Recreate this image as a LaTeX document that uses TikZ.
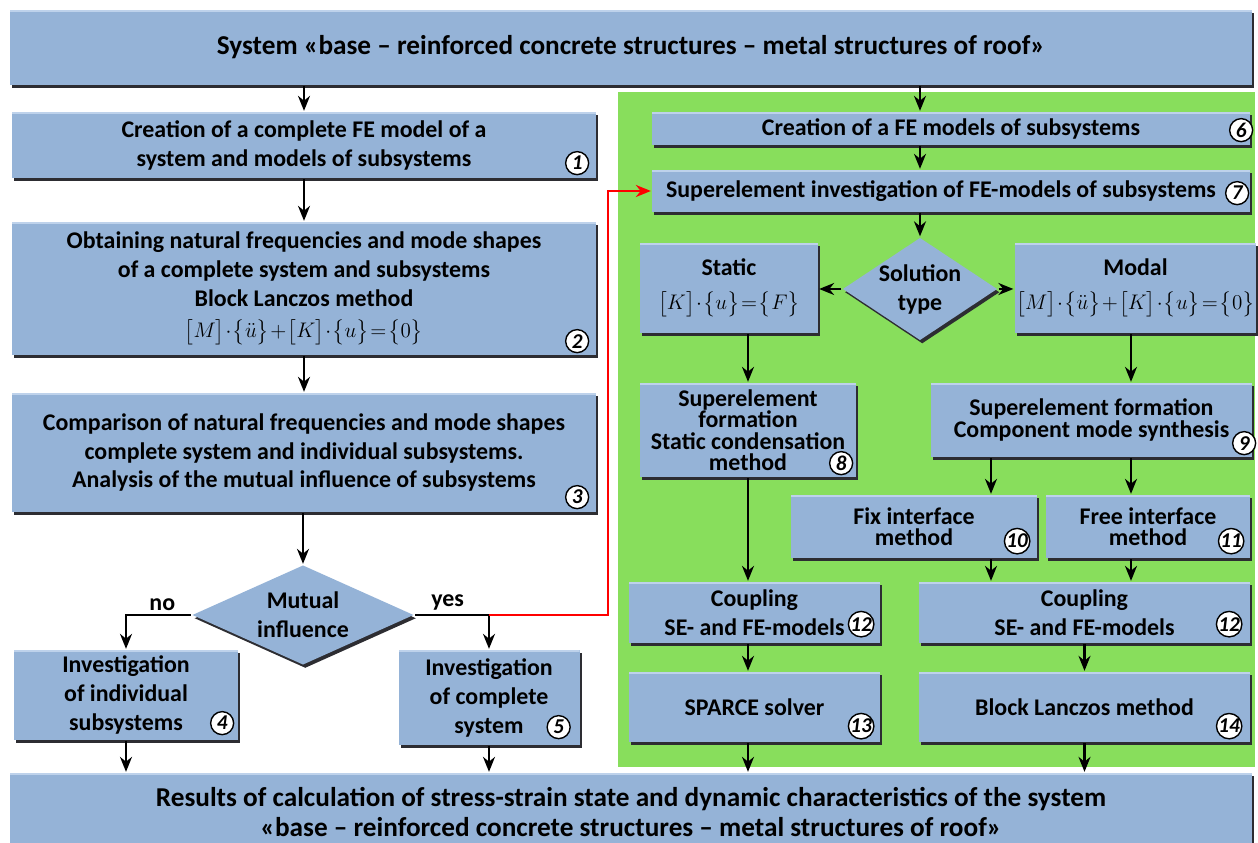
\documentclass[tikz,border=0pt]{standalone}
\usepackage{amsmath}
\usepackage{fontspec}
\setmainfont{Carlito}
\usetikzlibrary{calc}
\usetikzlibrary{arrows.meta}
\usetikzlibrary{shapes.geometric}
\usetikzlibrary{shadows}

\definecolor{boxblue}{RGB}{149,179,215}
\definecolor{boxlight}{RGB}{190,210,235}
\definecolor{boxedge}{RGB}{45,45,50}
\definecolor{panelgreen}{RGB}{136,222,92}

\newcommand{\eqfont}{\fontsize{12}{16}\selectfont\medmuskip=1mu\thickmuskip=1.5mu}
\newcommand{\eqstatic}{{\eqfont$\big[K\big]\cdot\big\{u\big\}=\big\{F\big\}$}}
\newcommand{\eqmodal}{{\eqfont$\big[M\big]\cdot\big\{\ddot{u}\big\}+\big[K\big]\cdot\big\{u\big\}=\big\{0\big\}$}}

\begin{document}
\begin{tikzpicture}[
        x=0.2mm, y=-0.2mm,
        box/.style={rectangle, fill=boxblue, align=center, inner sep=1pt,
            drop shadow={shadow xshift=0.45mm, shadow yshift=-0.65mm, fill=boxedge, opacity=1},
            path picture={\fill[boxlight] (path picture bounding box.north west) rectangle ([yshift=-0.5mm]path picture bounding box.north east);},
            font=\fontsize{13.6}{16.5}\selectfont\bfseries},
        tight/.style={font=\fontsize{13.6}{12.2}\selectfont\bfseries},
        wide/.style={font=\fontsize{15.5}{17.5}\selectfont\bfseries},
        dia/.style={diamond, fill=boxblue, inner sep=0pt,
            drop shadow={shadow xshift=0.45mm, shadow yshift=-0.65mm, fill=boxedge, opacity=1}},
        txt/.style={align=center, inner sep=0pt, font=\fontsize{13.6}{16.5}\selectfont\bfseries},
        num/.style={circle, draw, fill=white, line width=0.8pt, inner sep=0pt, minimum size=4.6mm,
            font=\fontsize{12}{12}\selectfont\bfseries\itshape},
        >={Stealth[length=3mm,width=2.4mm]},
        line width=1.3pt
    ]
    \useasboundingbox (0,0) rectangle (1258,843);

    % green part: superelement approach
    \fill[panelgreen] (618,92) rectangle (1255,767);

    % left column
    \node[box, wide, minimum width=248.4mm, minimum height=15mm] (top) at (631,47.5)
        {System «base – reinforced concrete structures – metal structures of roof»};
    \node[box, minimum width=116.8mm, minimum height=13.2mm] (b1) at (304,145)
        {Creation of a complete FE model of a\\system and models of subsystems};
    \node[box, minimum width=116.8mm, minimum height=26.6mm] (b2) at (304,288.5)
        {Obtaining natural frequencies and mode shapes\\of a complete system and subsystems\\Block Lanczos method\\[0.5mm]\eqmodal};
    \node[box, minimum width=116.8mm, minimum height=23.8mm] (b3) at (304,452.5)
        {Comparison of natural frequencies and mode shapes\\complete system and individual subsystems.\\Analysis of the mutual influence of subsystems};
    \node[dia, minimum width=44.4mm, minimum height=20mm,
        label={[txt]center:Mutual\\influence}] (d1) at (303,615) {};
    \node[box, minimum width=44.8mm, minimum height=18mm] (b4) at (126,695)
        {Investigation\\of individual\\subsystems};
    \node[box, minimum width=36.2mm, minimum height=19mm] (b5) at (489,697.5)
        {Investigation\\of complete\\system};
    \node[box, wide, minimum width=248.4mm, minimum height=15.6mm] (bot) at (631,812)
        {Results of calculation of stress-strain state and dynamic characteristics of the system\\«base – reinforced concrete structures – metal structures of roof»};

    % right column
    \node[box, minimum width=119.6mm, minimum height=6.6mm] (b6) at (951,128.5)
        {Creation of a FE models of subsystems};
    \node[box, minimum width=119.6mm, minimum height=8.4mm] (b7) at (951,191)
        {Superelement investigation of FE-models of subsystems\hspace{4mm}};
    \node[dia, minimum width=31mm, minimum height=20.6mm,
        label={[txt]center:Solution\\type}] (d2) at (920,289) {};
    \node[box, minimum width=35.6mm, minimum height=18mm] (bS) at (729,288)
        {Static\\[1mm]\eqstatic};
    \node[box, minimum width=46.2mm, minimum height=18mm] (bM) at (1135.5,288)
        {Modal\\[1mm]\eqmodal};
    \node[box, tight, minimum width=43.2mm, minimum height=18.8mm] (b8) at (748,430)
        {Superelement\\formation\\Static condensation\\method};
    \node[box, tight, minimum width=64.2mm, minimum height=14.8mm] (b9) at (1091.5,420)
        {Superelement formation\\Component mode synthesis};
    \node[box, tight, minimum width=49.2mm, minimum height=12.6mm] (b10) at (914,526.5)
        {Fix interface\\method};
    \node[box, tight, minimum width=40.8mm, minimum height=12.6mm] (b11) at (1148,526.5)
        {Free interface\\method};
    \node[box, minimum width=50.2mm, minimum height=12.2mm] (b12L) at (754.5,612.5)
        {Coupling\\SE- and FE-models};
    \node[box, minimum width=66.2mm, minimum height=12.2mm] (b12R) at (1084.5,612.5)
        {Coupling\\SE- and FE-models};
    \node[box, minimum width=50.2mm, minimum height=14mm] (b13) at (754.5,707)
        {SPARCE solver};
    \node[box, minimum width=66.2mm, minimum height=14mm] (b14) at (1084.5,707)
        {Block Lanczos method};

    % step numbers
    \node[num] (n1) at ($(b1.south east)+(-20,-16)$) {1};
    \node[num] (n2) at ($(b2.south east)+(-20,-15)$) {2};
    \node[num] (n3) at ($(b3.south east)+(-20,-16)$) {3};
    \node[num] (n4) at ($(b4.south east)+(-17,-18)$) {4};
    \node[num] (n5) at ($(b5.south east)+(-22,-19)$) {5};
    \node[num] (n6) at ($(b6.south east)+(-10,-16)$) {6};
    \node[num] (n7) at ($(b7.south east)+(-14,-20)$) {7};
    \node[num] (n8) at ($(b8.south east)+(-16,-15)$) {8};
    \node[num] (n9) at ($(b9.south east)+(-9,-15)$) {9};
    \node[num] (n10) at ($(b10.south east)+(-21,-18)$) {10};
    \node[num] (n11) at ($(b11.south east)+(-20,-18)$) {11};
    \node[num] (n12L) at ($(b12L.south east)+(-20,-20)$) {12};
    \node[num] (n12R) at ($(b12R.south east)+(-22,-20)$) {12};
    \node[num] (n13) at ($(b13.south east)+(-20,-17)$) {13};
    \node[num] (n14) at ($(b14.south east)+(-22,-17)$) {14};

    \coordinate (redx) at (608,0);
    \coordinate (fixx) at (991,0);
    \coordinate (freex) at (1131,0);

    % left flow
    \draw[->] (top.south -| b1.north) -- (b1.north);
    \draw[->] (b1) -- (b2);
    \draw[->] (b2) -- (b3);
    \draw[->] (b3.south -| d1.north) -- (d1.north);
    \draw[->] (d1.west) -| node[txt, pos=0.22, above=2pt] (lno) {no} (b4.north);
    \draw[->] (d1.east) -| node[txt, pos=0.22, above=2pt] (lyes) {yes} (b5.north);
    \draw[->, red] (d1.east -| b5.north) -- (d1.east -| redx) |- (b7.west);
    \draw[->] (b4.south) -- (b4.south |- bot.north);
    \draw[->] (b5.south) -- (b5.south |- bot.north);

    % right flow
    \draw[->] (top.south -| d2.north) -- (b6.north -| d2.north);
    \draw[->] (b6.south -| d2.north) -- (b7.north -| d2.north);
    \draw[->] (b7.south -| d2.north) -- (d2.north);
    \draw[->] (d2.west) -- (d2.west -| bS.east);
    \draw[->] (d2.east) -- (d2.east -| bM.west);
    \draw[->] (bS.south -| b8.north) -- (b8.north);
    \draw[->] (bM.south -| freex) -- (b9.north -| freex);
    \draw[->] (b9.south -| fixx) -- (b10.north -| fixx);
    \draw[->] (b9.south -| freex) -- (b11.north -| freex);
    \draw[->] (b8.south) -- (b8.south |- b12L.north);
    \draw[->] (b10.south -| fixx) -- (b12R.north -| fixx);
    \draw[->] (b11.south -| freex) -- (b12R.north -| freex);
    \draw[->] (b12L.south -| b8.south) -- (b13.north -| b8.south);
    \draw[->] (b12R) -- (b14);
    \draw[->] (b13.south -| b8.south) -- (bot.north -| b8.south);
    \draw[->] (b14.south) -- (b14.south |- bot.north);
\end{tikzpicture}
\end{document}
